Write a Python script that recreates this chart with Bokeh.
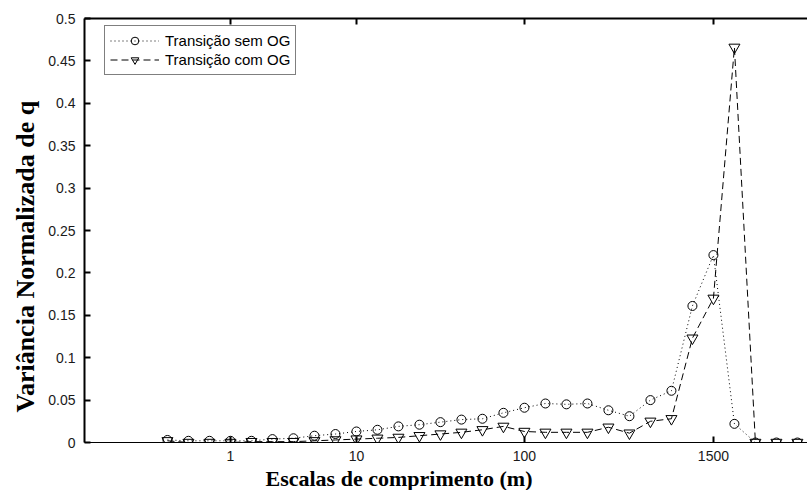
from bokeh.plotting import figure
from bokeh.models import FixedTicker, LinearAxis, Legend, LegendItem, Range1d, Title
from bokeh.embed import file_html
from bokeh.resources import INLINE

# ---- data ----
scale_index = list(range(1, 32))
x_tick_positions = [4, 10, 18, 27]
x_tick_labels = ["1", "10", "100", "1500"]

sem_og = [0.003, 0.002, 0.002, 0.002, 0.002, 0.004, 0.005, 0.008, 0.010, 0.013,
          0.015, 0.019, 0.021, 0.024, 0.027, 0.028, 0.035, 0.041, 0.046, 0.045,
          0.046, 0.038, 0.031, 0.050, 0.061, 0.161, 0.221, 0.022, 0.0, 0.0, 0.0]
com_og = [0.002, 0.0, 0.0, 0.0, 0.001, 0.001, 0.001, 0.002, 0.003, 0.004,
          0.005, 0.006, 0.008, 0.010, 0.012, 0.015, 0.019, 0.013, 0.012, 0.012,
          0.012, 0.018, 0.011, 0.025, 0.028, 0.123, 0.170, 0.466, 0.0, 0.0, 0.0]

y_ticks = [0, 0.05, 0.1, 0.15, 0.2, 0.25, 0.3, 0.35, 0.4, 0.45, 0.5]
y_tick_labels = ["0", "0.05", "0.1", "0.15", "0.2", "0.25", "0.3", "0.35", "0.4", "0.45", "0.5"]

series_names = ["Transição sem OG", "Transição com OG"]
x_title = "Escalas de comprimento (m)"
y_title = "Variância Normalizada de q"

# ---- figure ----
p = figure(frame_width=723, frame_height=424, output_backend="svg", toolbar_location=None,
           x_range=Range1d(-2.95, 31.48), y_range=Range1d(0, 0.5),
           min_border_left=84, min_border_right=0, min_border_top=18, min_border_bottom=0)
p.outline_line_color = None
p.xgrid.visible = False
p.ygrid.visible = False
p.background_fill_color = "white"
p.border_fill_color = "white"

tick_font = "Liberation Sans"
for ax in (p.xaxis[0], p.yaxis[0]):
    ax.axis_line_color = "black"
    ax.major_tick_line_color = "black"
    ax.major_tick_line_width = 2
    ax.major_tick_in = 6
    ax.major_tick_out = 0
    ax.minor_tick_line_color = None
    ax.major_label_text_font = tick_font
    ax.major_label_text_font_size = "14px"
    ax.major_label_text_color = "#1a1a1a"
p.xaxis[0].axis_line_width = 1
p.yaxis[0].axis_line_width = 2

p.xaxis[0].ticker = FixedTicker(ticks=x_tick_positions)
p.xaxis[0].major_label_overrides = dict(zip(x_tick_positions, x_tick_labels))
p.xaxis[0].major_label_standoff = 8

p.yaxis[0].ticker = FixedTicker(ticks=y_ticks)
p.yaxis[0].major_label_overrides = dict(zip(y_ticks, y_tick_labels))
p.yaxis[0].major_label_standoff = 9

top = LinearAxis(ticker=FixedTicker(ticks=x_tick_positions),
                 major_label_overrides={t: "" for t in x_tick_positions},
                 major_label_text_font_size="0px", major_label_standoff=0,
                 major_tick_in=6, major_tick_out=0, minor_tick_line_color=None,
                 axis_line_color="black", axis_line_width=2,
                 major_tick_line_color="black", major_tick_line_width=2)
p.add_layout(top, "above")

# ---- series ----
r1 = p.line(scale_index, sem_og, line_color="black", line_width=1, line_dash="1 3")
s1 = p.scatter(scale_index, sem_og, marker="circle", size=9,
               fill_color=None, line_color="black", line_width=1)
r2 = p.line(scale_index, com_og, line_color="black", line_width=1, line_dash="7 4")
s2 = p.scatter(scale_index, com_og, marker="inverted_triangle", size=11,
               fill_color=None, line_color="black", line_width=1)

legend = Legend(items=[LegendItem(label=series_names[0], renderers=[r1, s1]),
                       LegendItem(label=series_names[1], renderers=[r2, s2])],
                location=(20, 367), margin=0, padding=5, spacing=0,
                label_height=19, glyph_height=19, glyph_width=49, label_standoff=6,
                label_text_font=tick_font, label_text_font_size="15px",
                label_text_color="black",
                border_line_color="black", border_line_width=1,
                background_fill_color="white", background_fill_alpha=1.0)
p.add_layout(legend)

# ---- axis titles ----
p.add_layout(Title(text=x_title, align="left", offset=181, standoff=0,
                   text_font="Liberation Serif", text_font_style="bold",
                   text_font_size="22px", text_color="black"), "below")
p.add_layout(Title(text=y_title, align="left", offset=30, standoff=12,
                   text_font="Liberation Serif", text_font_style="bold",
                   text_font_size="26px", text_color="black"), "left")

open("out.html", "w").write(file_html(p, INLINE))
